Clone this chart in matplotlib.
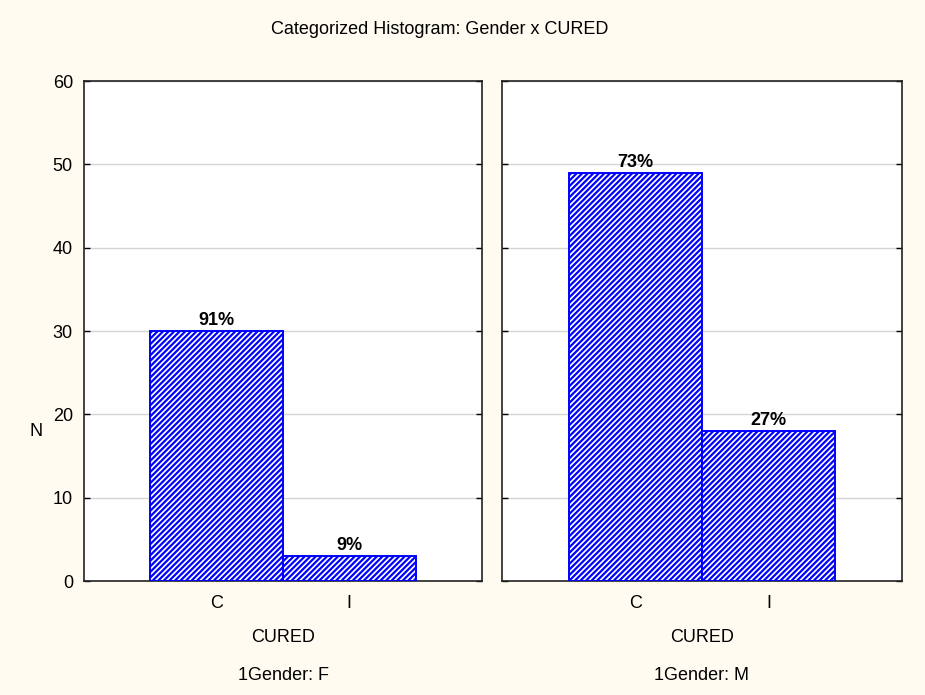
import matplotlib
matplotlib.use('Agg')
import matplotlib.pyplot as plt

plt.rcParams['font.family'] = ['Liberation Sans', 'DejaVu Sans']
plt.rcParams['hatch.linewidth'] = 1.6

categories = ['C', 'I']
panels = ['1Gender: F', '1Gender: M']
counts_f = [30, 3]
counts_m = [49, 18]
pct_f = ['91%', '9%']
pct_m = ['73%', '27%']
y_ticks = [0, 10, 20, 30, 40, 50, 60]

bg = '#fffbf0'
fs = 13
fig = plt.figure(figsize=(9.25, 6.95), dpi=100, facecolor=bg)

ax_l = fig.add_axes([84/925, 1-581/695, 398/925, 500/695])
ax_r = fig.add_axes([502/925, 1-581/695, 400/925, 500/695])

for ax, counts, pcts, name in [(ax_l, counts_f, pct_f, panels[0]),
                               (ax_r, counts_m, pct_m, panels[1])]:
    x = range(len(categories))
    ax.bar(x, counts, width=1.0, color='white', edgecolor='#0000ff',
           hatch='//////', linewidth=1.4, zorder=3)
    for xi, c, p in zip(x, counts, pcts):
        ax.text(xi, c + 0.2, p, ha='center', va='bottom', fontsize=fs,
                fontweight='bold', zorder=4)
    ax.set_xlim(-1, 2)
    ax.set_ylim(0, 60)
    ax.set_xticks(list(x))
    ax.set_xticklabels(categories)
    ax.set_yticks(y_ticks)
    ax.yaxis.grid(True, color='#d4d4d4', linewidth=1, zorder=0)
    ax.set_axisbelow(True)
    ax.tick_params(axis='both', direction='in', length=4, width=1,
                   right=True, labelsize=fs, pad=10)
    ax.tick_params(axis='y', pad=8)
    for s in ax.spines.values():
        s.set_color('#222222')
        s.set_linewidth(1.2)
    ax.set_xlabel('CURED', fontsize=fs, labelpad=12)
    cx = (ax.get_position().x0 + ax.get_position().x1) / 2
    fig.text(cx, 1 - 675/695, name, ha='center', va='center', fontsize=fs)

ax_r.tick_params(axis='y', labelleft=False)

fig.text(440/925, 1 - 30/695, 'Categorized Histogram: Gender x CURED',
         ha='center', va='center', fontsize=fs)
fig.text(36/925, 1 - 432/695, 'N', ha='center', va='center', fontsize=fs)

fig.savefig('out.png', dpi=100, facecolor=bg)
